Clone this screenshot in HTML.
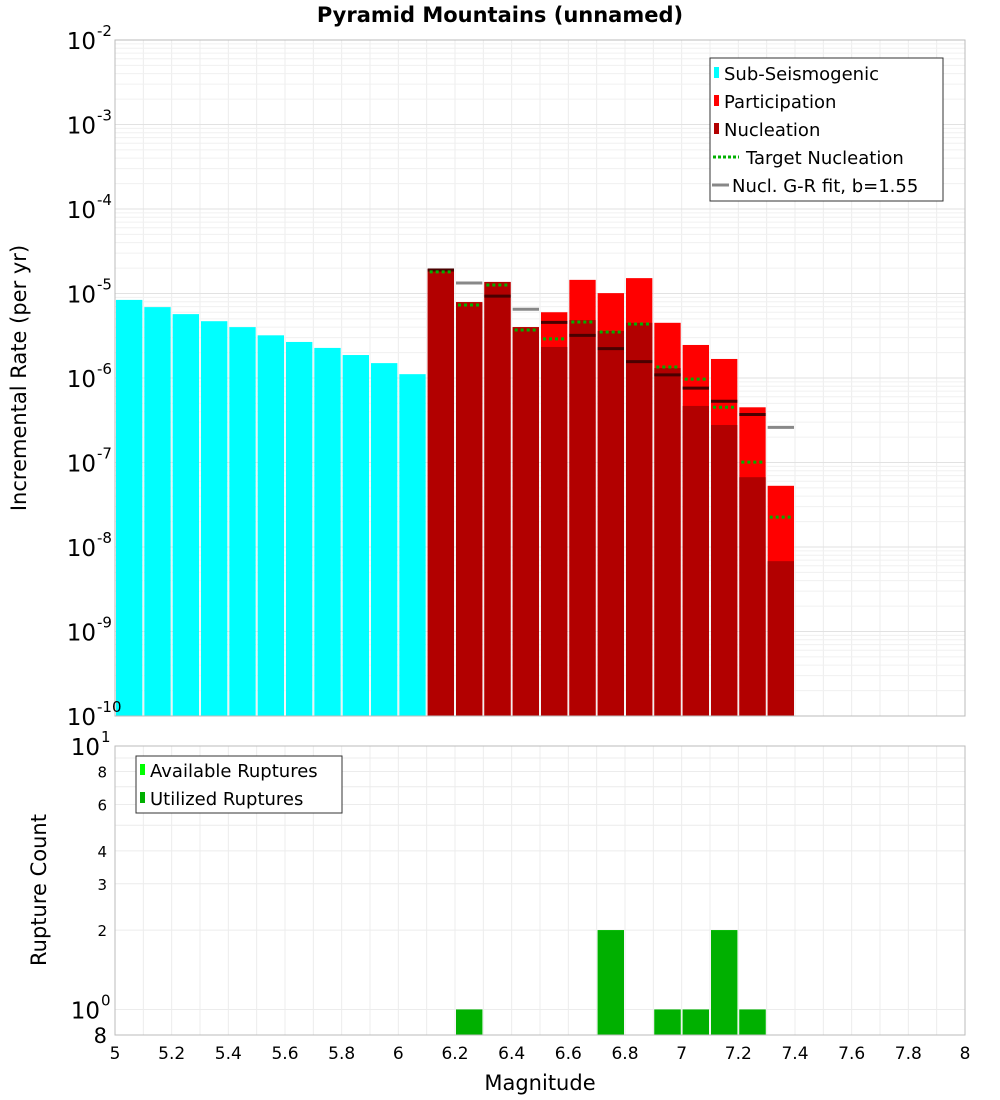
<!DOCTYPE html>
<html><head><meta charset="utf-8"><style>
html,body{margin:0;padding:0;background:#fff;}
svg{display:block;font-family:"DejaVu Sans","Liberation Sans",sans-serif;}
</style></head><body>
<svg id="c" width="1000" height="1100" viewBox="0 0 1000 1100" xmlns="http://www.w3.org/2000/svg">
<text x="500" y="22" text-anchor="middle" font-size="21" font-weight="bold">Pyramid Mountains (unnamed)</text>
<g id="grid"></g><g id="marks"></g><g id="axes"></g>
<text transform="translate(26,378) rotate(-90)" text-anchor="middle" font-size="21">Incremental Rate (per yr)</text>
<text transform="translate(46,890) rotate(-90)" text-anchor="middle" font-size="21">Rupture Count</text>
<text x="540" y="1090" text-anchor="middle" font-size="21">Magnitude</text>
<g>
<rect x="710" y="58" width="233" height="143" fill="#fff" stroke="#333" stroke-width="1"/>
<rect x="714" y="67" width="5" height="11" fill="#00ffff"/><text x="724" y="80" font-size="18">Sub-Seismogenic</text>
<rect x="714" y="95" width="5" height="11" fill="#ff0000"/><text x="724" y="108" font-size="18">Participation</text>
<rect x="714" y="123" width="5" height="11" fill="#b20000"/><text x="724" y="136" font-size="18">Nucleation</text>
<line x1="713" y1="157" x2="739" y2="157" stroke="#00b000" stroke-width="3" stroke-dasharray="3,2"/><text x="746" y="164" font-size="18">Target Nucleation</text>
<line x1="712" y1="185" x2="729" y2="185" stroke="#888" stroke-width="3"/><text x="732" y="192" font-size="18">Nucl. G-R fit, b=1.55</text>
</g>
<g>
<rect x="136" y="756" width="206" height="57" fill="#fff" stroke="#333" stroke-width="1"/>
<rect x="140" y="764" width="5" height="11" fill="#00ff00"/><text x="150" y="777" font-size="18">Available Ruptures</text>
<rect x="140" y="792" width="5" height="11" fill="#00b000"/><text x="150" y="805" font-size="18">Utilized Ruptures</text>
</g>
</svg>
<script>
// ---- data ----
const subMags = [5.05,5.15,5.25,5.35,5.45,5.55,5.65,5.75,5.85,5.95,6.05];
const subRates = [8.4e-6,6.9e-6,5.7e-6,4.7e-6,4.0e-6,3.2e-6,2.67e-6,2.27e-6,1.87e-6,1.5e-6,1.11e-6];
const supMags = [6.15,6.25,6.35,6.45,6.55,6.65,6.75,6.85,6.95,7.05,7.15,7.25,7.35];
const partRates = [1.95e-5,7.9e-6,1.37e-5,4.0e-6,6.0e-6,1.45e-5,1.01e-5,1.52e-5,4.5e-6,2.46e-6,1.68e-6,4.5e-7,5.3e-8];
const nuclRates = [1.95e-5,7.9e-6,1.37e-5,4.0e-6,2.33e-6,4.85e-6,3.6e-6,4.5e-6,1.31e-6,4.67e-7,2.78e-7,6.7e-8,6.8e-9];
const targetRates = [1.8e-5,7.3e-6,1.26e-5,3.7e-6,2.9e-6,4.6e-6,3.5e-6,4.35e-6,1.35e-6,9.7e-7,4.5e-7,1.01e-7,2.26e-8];
const grRates = [1.9e-5,1.33e-5,9.3e-6,6.5e-6,4.55e-6,3.19e-6,2.23e-6,1.56e-6,1.09e-6,7.6e-7,5.3e-7,3.7e-7,2.6e-7];
const countMags = [6.25,6.75,6.95,7.05,7.15,7.25];
const availCounts = [1,2,1,1,2,1];
const usedCounts = [1,2,1,1,2,1];
const xTicks = ["5","5.2","5.4","5.6","5.8","6","6.2","6.4","6.6","6.8","7","7.2","7.4","7.6","7.8","8"];
const yExps = ["-2","-3","-4","-5","-6","-7","-8","-9","-10"];
const cTicks = ["8","6","4","3","2","8"];
const cTickVals = [8,6,4,3,2,0.8];

const NS="http://www.w3.org/2000/svg";
const X0=115,X1=965,T0=40,T1=716,B0=746,B1=1035;
const xs=m=>X0+(m-5)/3*(X1-X0);
const ys=v=>T0+(-2-Math.log10(v))/8*(T1-T0);
const yc=v=>B0+(1-Math.log10(v))/(1-Math.log10(0.8))*(B1-B0);
function el(p,t,a){const e=document.createElementNS(NS,t);for(const k in a)e.setAttribute(k,a[k]);document.getElementById(p).appendChild(e);return e;}

// grid
for(let i=0;i<=30;i++){const x=xs(5+i*0.1);
 el('grid','line',{x1:x,x2:x,y1:T0,y2:T1,stroke:'#ececec'});
 el('grid','line',{x1:x,x2:x,y1:B0,y2:B1,stroke:'#ececec'});}
for(let d=-10;d<-2;d++)for(let k=1;k<10;k++){const y=ys(k*Math.pow(10,d));
 el('grid','line',{x1:X0,x2:X1,y1:y,y2:y,stroke:k==1?'#e2e2e2':'#f0f0f0'});}
for(let k=1;k<=10;k++){const y=yc(k);el('grid','line',{x1:X0,x2:X1,y1:y,y2:y,stroke:'#ececec'});}

// bars
const hw=0.05*(X1-X0)/3-1;
subMags.forEach((m,i)=>{const r=el('marks','rect',{x:xs(m)-hw,y:ys(subRates[i]),width:2*hw,height:T1-ys(subRates[i]),fill:'#00ffff'});

});
supMags.forEach((m,i)=>{
 const r=el('marks','rect',{x:xs(m)-hw,y:ys(partRates[i]),width:2*hw,height:T1-ys(partRates[i]),fill:'#ff0000'});
 
 
 const n=el('marks','rect',{x:xs(m)-hw,y:ys(nuclRates[i]),width:2*hw,height:T1-ys(nuclRates[i]),fill:'#b20000'});
 
 });
supMags.forEach((m,i)=>{
 const inside=grRates[i]<=partRates[i]*1.02;
 const g=el('marks','line',{x1:xs(m)-hw,x2:xs(m)+hw,y1:ys(grRates[i]),y2:ys(grRates[i]),stroke:inside?'#4a0000':'#888','stroke-width':3});
 
 
 const t=el('marks','line',{x1:xs(m)-hw+2,x2:xs(m)+hw-2,y1:ys(targetRates[i]),y2:ys(targetRates[i]),stroke:'#00b000','stroke-width':3,'stroke-dasharray':'3,3'});
 
 });
countMags.forEach((m,i)=>{
 const a=el('marks','rect',{x:xs(m)-hw,y:yc(availCounts[i]),width:2*hw,height:B1-yc(availCounts[i]),fill:'#00ff00'});
 
 
 const u=el('marks','rect',{x:xs(m)-hw,y:yc(usedCounts[i]),width:2*hw,height:B1-yc(usedCounts[i]),fill:'#00b000'});
 
 });

// axes frames
el('axes','rect',{x:X0,y:T0,width:X1-X0,height:T1-T0,fill:'none',stroke:'#bbb'});
el('axes','rect',{x:X0,y:B0,width:X1-X0,height:B1-B0,fill:'none',stroke:'#bbb'});
xTicks.forEach((t,i)=>{const e=el('axes','text',{x:xs(5+i*0.2),y:1059,'text-anchor':'middle','font-size':17});e.textContent=t;
 
 });
yExps.forEach((t,i)=>{const y=T0+i*(T1-T0)/8;
 const e=el('axes','text',{x:96,y:y+9,'text-anchor':'end','font-size':23});e.textContent='10';
 
 
 const s=el('axes','text',{x:97,y:y-4,'font-size':15});s.textContent=t;
 
 });
[[1,'1'],[1,'0']].forEach((p,i)=>{const y=i==0?yc(10):yc(1);
 const e=el('axes','text',{x:100,y:y+9,'text-anchor':'end','font-size':23});e.textContent='10';
 
 
 const s=el('axes','text',{x:101,y:y-4,'font-size':15});s.textContent=p[1];
 
 });
cTicks.forEach((t,i)=>{const big=i==5;const e=el('axes','text',{x:107,y:yc(cTickVals[i])+(big?8:6),'text-anchor':'end','font-size':big?21:15});e.textContent=t;
 
 });
</script>
</body></html>
